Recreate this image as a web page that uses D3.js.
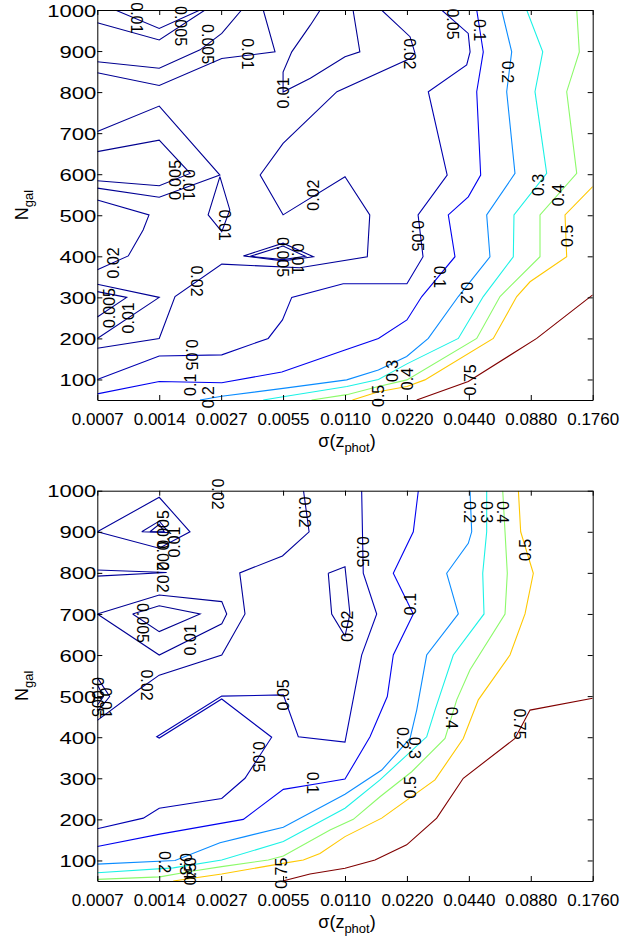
<!DOCTYPE html>
<html><head><meta charset="utf-8">
<script src="https://cdn.jsdelivr.net/npm/d3@7"></script>
<style>
body{margin:0;background:#fff}
svg{display:block}
text{font-family:"Liberation Sans",Arial,Helvetica,sans-serif;fill:#000}
</style></head>
<body><svg id="c" width="632" height="943"></svg>
<script>
// ---------- axes data ----------
const xTickLabels = ["0.0007","0.0014","0.0027","0.0055","0.0110","0.0220","0.0440","0.0880","0.1760"];
const yTickValues = [100,200,300,400,500,600,700,800,900,1000];
const levels = [0.005,0.01,0.02,0.05,0.1,0.2,0.3,0.4,0.5,0.75];
const levelColors = ["#00008f","#000094","#00009a","#0000b0","#0000f0","#0a8cff","#1cf2e6","#8cfa6a","#ffc800","#800000"];

// ---------- panel 1 contours: [x index, N_gal] ----------
const a1_001_v    = [[0.29,1000],[1,955],[1.66,1000]];
const a1_0005_v   = [[0,969],[1,927],[1.74,1000]];
const a1_0005_top = [[0,874],[1,858],[1.66,903],[2.01,943],[2.33,1000]];
const a1_001_top  = [[0,847],[1,816],[2.01,882],[2.87,898],[2.68,1000]];
const a1_001_hook = [[3.6,1000],[3.44,963],[3.14,898],[3.0,849],[3.0,800],[3.44,834],[4.0,886],[4.24,898],[4.13,1000]];
const a1_001_mid  = [[0,704],[1,766],[1.98,598],[1,544],[0,566]];
const a1_0005_mid = [[0,655],[1,683],[1.5,602],[1,572],[0,584]];
const a1_001_tri  = [[1.98,594],[1.79,501],[2.01,460],[2.14,513],[1.98,594]];
const a1_002_main = [[4.59,1000],[5.05,935],[5.13,895],[5.05,882],[3.87,801],[3.0,675],[2.63,598],[3.0,501],[4.0,594],[4.4,501],[4.36,399],[3.27,372],[2.01,381],[1.255,302],[1,200],[0,176]];
const a1_002_left = [[0,367],[0.5,401],[0.74,464],[0.835,501],[0,537]];
const a1_001_left = [[0,332],[1,300],[0,200]];
const a1_0005_left= [[0,314],[0.475,300],[0,252]];
const a1_0005_dia = [[2.36,401],[3.0,432],[3.49,399],[3.0,389],[2.36,401]];
const a1_001_dia  = [[2.47,400],[3.0,425],[3.36,400],[3.0,392],[2.47,400]];
const a1_005 = [[0,100],[1,157],[2.01,160],[2.76,200],[2.99,245],[3.14,300],[3.97,333],[5.0,333],[5.26,399],[5.18,501],[5.65,598],[5.345,801],[5.965,866],[6.02,898],[5.99,943],[5.56,1000]];
const a1_01  = [[0,65],[1,95],[2.01,92],[2.98,118],[4.0,172],[4.54,200],[5.0,245],[5.24,302],[5.776,399],[5.668,501],[5.991,545],[6.191,598],[6.127,801],[6.233,898],[6.127,1000]];
const a1_02  = [[1.658,50],[2.009,59],[3.031,79],[4.027,99],[4.538,123],[4.996,156],[5.345,200],[5.83,302],[6.341,399],[6.288,501],[6.745,602],[6.611,801],[6.692,898],[6.53,1000]];
const a1_03  = [[2.68,50],[3.0,58],[4.03,83],[4.54,100],[5.0,138],[5.83,200],[6.233,302],[6.718,399],[6.729,501],[7.257,602],[7.068,801],[7.193,898],[6.934,1000]];
const a1_04  = [[3.46,50],[4.03,63],[4.54,83],[5.0,99],[6.127,200],[6.503,302],[7.149,399],[7.149,501],[7.742,602],[7.58,801],[7.784,898],[7.742,1000]];
const a1_05  = [[4.12,50],[4.54,70],[5.0,83],[5.29,99],[6.395,200],[6.773,302],[6.988,338],[7.58,399],[7.553,501],[8.0,570]];
const a1_075 = [[5.158,50],[5.991,95],[7.096,200],[8.0,306]];

// ---------- panel 2 contours ----------
const a2_002_dia   = [[0,900],[1,984],[1.497,900],[1,860],[0,900]];
const a2_001_tri   = [[0.717,900],[1,926],[1.16,898],[0.717,900]];
const a2_0005_tri  = [[0.85,900],[1,918],[1.08,900],[0.85,900]];
const a2_002_spike = [[0,807],[1.12,801],[0,792]];
const a2_001_pent  = [[0,700],[1,746],[2.01,730],[2.09,700],[2.01,676],[1,600],[0,700]];
const a2_0005_in   = [[0.57,700],[1,720],[1.66,700],[1,657],[0.57,700]];
const a2_002_main  = [[3.33,1000],[3.42,900],[2.99,841],[2.30,800],[2.385,700],[2.01,600],[1,551],[0.66,515],[0,441]];
const a2_001_edge  = [[0,545],[0.2,499],[0,462]];
const a2_0005_edge = [[0,528],[0.1,499],[0,478]];
const a2_005 = [[4.269,1000],[4.295,799],[4.512,700],[4.269,600],[4.0,388],[3.246,401],[3.004,503],[2.009,500],[0.96,401],[1.0,398],[2.009,493],[2.816,400],[2.385,300],[2.009,251],[1.0,227],[0.743,203],[0,177]];
const a2_002_loop = [[3.73,799],[4.0,815],[4.08,700],[4.0,646],[3.785,700],[3.73,799]];
const a2_01  = [[5.184,1000],[5.103,900],[4.78,799],[5.103,700],[4.78,600],[4.683,499],[4.404,401],[4.0,298],[3.6,288],[3.004,273],[2.358,200],[1.012,164],[0,134]];
const a2_02  = [[6.019,1000],[6.046,900],[5.991,872],[5.642,799],[5.83,700],[5.319,600],[5.158,466],[5.05,397],[4.593,320],[4.0,261],[3.004,181],[2.385,158],[1.981,143],[1.255,100],[0,91]];
const a2_03  = [[6.288,1000],[6.288,900],[6.224,799],[6.245,700],[5.749,600],[5.453,466],[5.319,401],[4.565,296],[4.0,227],[3.004,146],[2.009,101],[1.227,82],[0,70]];
const a2_04  = [[6.547,1000],[6.584,900],[6.621,799],[6.584,700],[6.019,564],[5.804,491],[5.615,397],[5.077,316],[4.565,255],[4.134,200],[3.758,174],[3.004,111],[2.761,101],[2.009,85],[1.497,73],[1.012,60],[0,54]];
const a2_05  = [[6.8,1000],[6.837,900],[7.041,799],[6.907,700],[6.664,600],[6.153,491],[5.91,397],[5.453,296],[4.593,203],[4.0,158],[3.596,117],[3.327,101],[2.994,93],[2.009,67],[1.227,50]];
const a2_075 = [[8.0,495],[6.988,466],[6.745,397],[5.91,300],[5.481,203],[4.996,138],[4.484,101],[4.0,81],[3.435,67],[2.994,50]];

// ---------- contour labels: [text, x index, N_gal] ----------
const p1Labels = [
 ["0.01",0.64,981],["0.005",1.34,961],["0.005",1.79,917],["0.01",2.43,893],["0.01",3.0,798],
 ["0.02",5.05,893],["0.05",5.74,966],["0.1",6.18,951],["0.2",6.63,849],["0.3",7.12,574],
 ["0.4",7.44,549],["0.5",7.59,450],["0.005",1.255,586],["0.01",1.48,574],["0.01",2.06,476],
 ["0.02",3.48,549],["0.005",3.0,398],["0.01",3.24,394],["0.02",0.25,384],["0.005",0.2,274],
 ["0.01",0.5,250],["0.02",1.61,340],["0.05",1.53,160],["0.1",1.5,87],["0.2",1.79,57],
 ["0.05",5.18,450],["0.1",5.53,350],["0.2",5.97,311],["0.3",4.76,121],["0.4",5.0,101],
 ["0.5",4.53,60],["0.75",6.02,99]
];
const p1LabelDir = [1,1,1,1,-1, 1,1,1,1,-1, -1,-1,-1,1,1, -1,1,1,-1,-1, -1,1,1,-1,-1, 1,1,1,-1,-1, -1,-1];
const p2Labels = [
 ["0.02",1.95,992],["0.02",3.35,948],["0.005",1.06,904],["0.01",1.25,875],["0.02",1.06,843],
 ["0.02",1.06,790],["0.005",0.74,678],["0.01",1.5,637],["0.02",0.8,527],["0.005",0.01,498],
 ["0.01",0.14,483],["0.05",3.0,503],["0.05",2.6,352],["0.05",4.29,851],["0.02",4.03,670],
 ["0.1",5.05,724],["0.1",3.48,289],["0.2",6.02,948],["0.3",6.29,948],["0.4",6.55,948],
 ["0.5",6.91,856],["0.2",4.94,398],["0.3",5.13,374],["0.4",5.73,447],["0.5",5.05,278],
 ["0.75",6.83,432],["0.2",1.09,96],["0.3",1.43,91],["0.4",1.5,81],["0.5",1.5,67],["0.75",2.97,69]
];
const p2LabelDir = [1,1,-1,-1,1, 1,1,-1,1,1, 1,-1,1,1,-1, -1,1,1,1,1, -1,1,1,1,-1, 1,1,1,1,-1,-1];

const p1Lines = [
 [0.01,a1_001_v],[0.005,a1_0005_v],[0.005,a1_0005_top],[0.01,a1_001_top],[0.01,a1_001_hook],
 [0.01,a1_001_mid],[0.005,a1_0005_mid],[0.01,a1_001_tri],[0.02,a1_002_main],[0.02,a1_002_left],
 [0.01,a1_001_left],[0.005,a1_0005_left],[0.005,a1_0005_dia],[0.01,a1_001_dia],
 [0.05,a1_005],[0.1,a1_01],[0.2,a1_02],[0.3,a1_03],[0.4,a1_04],[0.5,a1_05],[0.75,a1_075]
];
const p2Lines = [
 [0.02,a2_002_dia],[0.01,a2_001_tri],[0.005,a2_0005_tri],[0.02,a2_002_spike],[0.01,a2_001_pent],
 [0.005,a2_0005_in],[0.02,a2_002_main],[0.01,a2_001_edge],[0.005,a2_0005_edge],[0.05,a2_005],
 [0.02,a2_002_loop],[0.1,a2_01],[0.2,a2_02],[0.3,a2_03],[0.4,a2_04],[0.5,a2_05],[0.75,a2_075]
];

// ---------- drawing ----------
const svg = d3.select("#c");
const xL = 97.3, xR = 592.7;
const panels = [
  {top:10, bottom:400, lines:p1Lines, labels:p1Labels, dirs:p1LabelDir},
  {top:490.7, bottom:881, lines:p2Lines, labels:p2Labels, dirs:p2LabelDir}
];

panels.forEach((p, pi) => {
  const x = d3.scaleLinear().domain([0, 8]).range([xL, xR]);
  const y = d3.scaleLinear().domain([50, 1000]).range([p.bottom, p.top]);
  const g = svg.append("g");
  const clipId = "clip" + pi;
  g.append("clipPath").attr("id", clipId).append("rect")
    .attr("x", xL).attr("y", p.top).attr("width", xR - xL).attr("height", p.bottom - p.top);

  const line = d3.line().x(d => x(d[0])).y(d => y(d[1]));
  g.append("g").attr("clip-path", `url(#${clipId})`)
    .selectAll("path").data(p.lines).join("path")
    .attr("d", d => line(d[1]))
    .attr("fill", "none")
    .attr("stroke", d => levelColors[levels.indexOf(d[0])])
    .attr("stroke-width", 1.1)
    .attr("stroke-linejoin", "miter");

  // contour labels
  g.append("g").selectAll("text").data(p.labels).join("text")
    .attr("transform", (d, i) => `translate(${x(d[1])},${y(d[2])}) rotate(${p.dirs[i] * 90})`)
    .attr("text-anchor", "middle")
    .attr("dy", "0.36em")
    .attr("font-size", 16)
    .text(d => d[0]);

  // axes (ticks inward)
  const styleAxis = sel => {
    sel.selectAll(".domain").attr("stroke", "#000").attr("stroke-width", 1);
    sel.selectAll(".tick line").attr("stroke", "#000");
    sel.attr("font-family", null);
  };
  const bottom = g.append("g").attr("transform", `translate(0,${p.bottom})`)
    .call(d3.axisBottom(x).tickValues(d3.range(9)).tickFormat(i => xTickLabels[i]).tickSizeInner(-5).tickSizeOuter(0))
    .call(styleAxis);
  bottom.selectAll("text").attr("y", 25).attr("dy", 0).attr("font-size", 17).style("fill", "#000");

  g.append("g").attr("transform", `translate(0,${p.top})`)
    .call(d3.axisTop(x).tickValues(d3.range(9)).tickFormat("").tickSizeInner(-5).tickSizeOuter(0))
    .call(styleAxis);

  const left = g.append("g").attr("transform", `translate(${xL},0)`)
    .call(d3.axisLeft(y).tickValues(yTickValues).tickFormat(d3.format("d")).tickSizeInner(-5).tickSizeOuter(0))
    .call(styleAxis);
  left.selectAll("text").attr("x", 0).attr("dy", "0.36em").attr("font-size", 17)
    .attr("transform", "translate(-1,0) scale(1.3,1)").style("fill", "#000");

  g.append("g").attr("transform", `translate(${xR},0)`)
    .call(d3.axisRight(y).tickValues(yTickValues).tickFormat("").tickSizeInner(-5).tickSizeOuter(0))
    .call(styleAxis);

  // axis titles
  const xt = g.append("text").attr("x", 347).attr("y", p.bottom + 47)
    .attr("text-anchor", "middle").attr("font-size", 18);
  xt.append("tspan").text("σ(z");
  xt.append("tspan").attr("dy", 5).attr("font-size", 13).text("phot");
  xt.append("tspan").attr("dy", -5).text(")");

  const yt = g.append("text")
    .attr("transform", `translate(28,${(p.top + p.bottom) / 2})) rotate(-90)`)
    .attr("text-anchor", "middle").attr("font-size", 18);
  yt.attr("transform", `translate(28,${(p.top + p.bottom) / 2}) rotate(-90)`);
  yt.append("tspan").text("N");
  yt.append("tspan").attr("dy", 5).attr("font-size", 13).text("gal");
});
</script>
</body></html>
